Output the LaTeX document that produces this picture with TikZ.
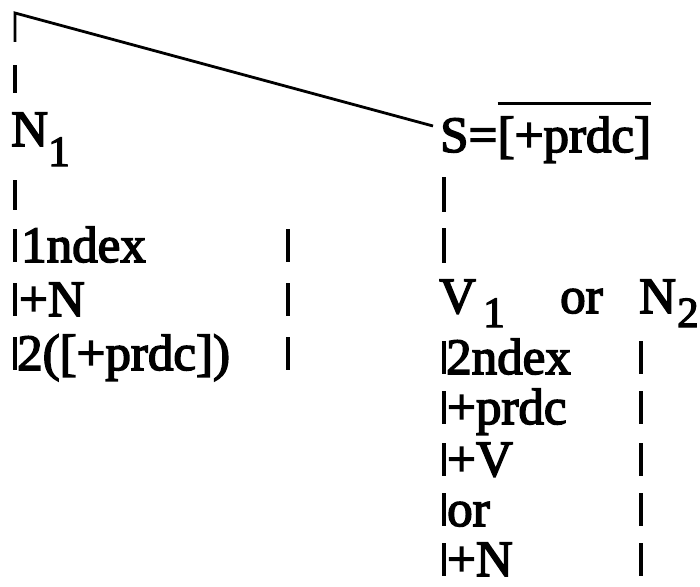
\documentclass[tikz,border=0pt]{standalone}
\usepackage{fontspec}
\setmainfont{Liberation Serif}[FakeBold=3]
\begin{document}
\begin{tikzpicture}[x=1pt,y=-1pt,
  txt/.style={anchor=base west, inner sep=0pt, font=\fontsize{51}{52}\selectfont},
  sub/.style={anchor=base west, inner sep=0pt, font=\fontsize{43}{45}\selectfont},
  bar/.style={line width=3.4pt},
  link/.style={line width=2.8pt, line join=miter}]
\useasboundingbox (0,0) rectangle (700,586);
% left branch
\coordinate (top) at (15,13);
\coordinate (topbar) at (15,42);
\coordinate (join) at (433,126);
\node[txt] (N1) at (11,146) {N};
\node[sub] (N1s) at (48,166) {1};
\node[txt] (L1) at (21,262) {1ndex};
\node[txt] (L2) at (19,316) {+N};
\node[txt] (L3) at (17,370) {2([+prdc])};
% right branch
\node[txt] (S) at (440,152) {S=};
\node[txt] (Sf) at (S.base east) {[+prdc]};
\node[txt] (V) at (439,313) {V};
\node[sub] (Vs) at (483,327) {1};
\node[txt] (or) at (560,313) {or};
\node[txt] (N2) at (639,313) {N};
\node[sub] (N2s) at (677,327) {2};
\node[txt] (R1) at (446,374) {2ndex};
\node[txt] (R2) at (447,424) {+prdc};
\node[txt] (R3) at (447,476) {+V};
\node[txt] (R4) at (447,526) {or};
\node[txt] (R5) at (447,576) {+N};
% connectors
\draw[link] (join) -- (top) -- (topbar);
\draw[link] ([yshift=13pt]Sf.north west) -- ([yshift=13pt]Sf.north east);
% bars, left
\foreach \a/\b in {65/93,180/210,229/262,283/316,337/370}
  \draw[bar] (15,\a) -- (15,\b);
\foreach \a/\b in {229/262,283/316,337/370}
  \draw[bar] (288,\a) -- (288,\b);
% bars, right
\foreach \a/\b in {177/212,228/263,341/374,391/424,443/476,493/526,543/576}
  \draw[bar] (444,\a) -- (444,\b);
\foreach \a/\b in {341/374,391/424,443/476,493/526,543/576}
  \draw[bar] (641,\a) -- (641,\b);
\end{tikzpicture}
\end{document}
